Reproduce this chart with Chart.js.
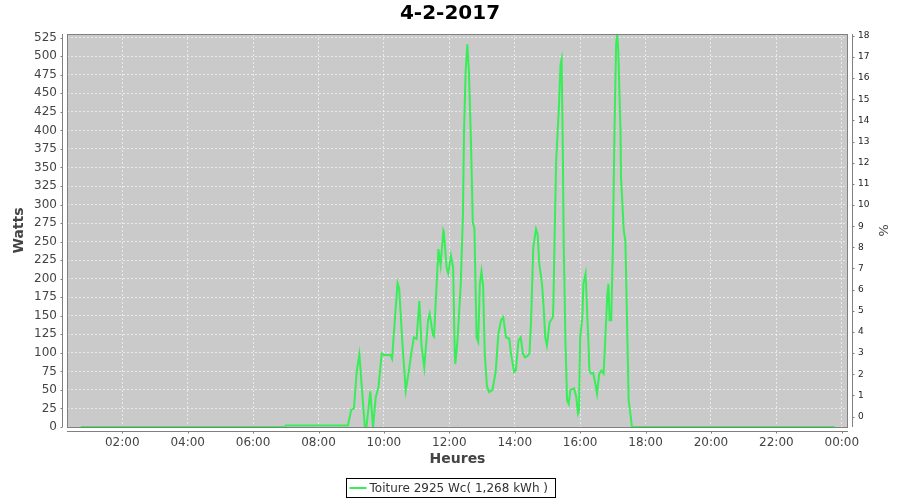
<!DOCTYPE html>
<html>
<head>
<meta charset="utf-8">
<script src="https://cdn.jsdelivr.net/npm/chart.js@4/dist/chart.umd.min.js"></script>
<style>
  body { margin: 0; background: #fff; }
</style>
</head>
<body>
<canvas id="myChart" width="900" height="500"></canvas>
<script>
'use strict';

const chartTitle = '4-2-2017';
const seriesLabel = 'Toiture 2925 Wc( 1,268 kWh )';

// heures de mesure
const times = ['00:44','02:00','04:00','06:00','06:58','07:00','08:00','08:54',
  '09:00','09:05','09:10','09:15','09:20','09:25','09:28','09:35','09:40','09:45','09:50','09:56',
  '10:00','10:12','10:15','10:20','10:25','10:28','10:34','10:40','10:45','10:51','10:55',
  '11:00','11:05','11:09','11:14','11:21','11:24','11:30','11:32','11:35','11:40','11:44','11:49','11:50','11:55','11:58',
  '12:03','12:07','12:10','12:11','12:15','12:21','12:25','12:27','12:30','12:33','12:36','12:40','12:43','12:46','12:50','12:53','12:56','12:59',
  '13:02','13:05','13:09','13:13','13:19','13:25','13:30','13:35','13:39','13:44','13:50','13:53','13:59',
  '14:02','14:07','14:11','14:15','14:19','14:24','14:27','14:30','14:34','14:39','14:42','14:45','14:50','14:53','14:56','14:59',
  '15:04','15:10','15:11','15:13','15:16','15:21','15:24','15:26','15:28','15:30','15:33','15:36','15:39','15:42','15:49','15:53','15:56','15:58',
  '16:00','16:04','16:06','16:10','16:12','16:15','16:17','16:20','16:24','16:28','16:31','16:35','16:39','16:43','16:46','16:50','16:52','16:54','16:57',
  '17:00','17:03','17:06','17:08','17:10','17:14','17:15','17:20','17:23','17:26','17:29','17:33','17:35',
  '18:00','20:00','22:00','23:47'];

// puissance en Watts
const watts = [0,0,0,0,0,2,2,2,
  23,25,74,98,49,0,0,48,0,40,54,99,
  97,97,92,144,194,187,112,49,72,103,121,
  119,170,110,80,144,153,124,122,168,240,218,265,263,215,207,
  231,215,99,85,117,193,287,400,480,516,480,377,276,268,121,115,193,210,
  190,99,55,47,50,74,126,144,148,121,119,99,74,
  76,117,121,99,94,96,99,144,242,267,260,220,193,162,121,110,
  141,148,168,251,359,431,489,496,386,242,117,36,31,50,52,40,18,22,
  121,148,193,207,171,117,76,72,73,58,45,72,76,72,117,180,193,144,144,
  242,400,517,530,507,400,337,265,251,144,36,13,0,
  0,0,0,0];

const xTicks = [2,4,6,8,10,12,14,16,18,20,22,24];
const wattTicks = [];
for (let v = 0; v <= 525; v += 25) wattTicks.push(v);
const pctTicks = [];
for (let v = 0; v <= 18; v++) pctTicks.push(v);

function toHours(t) {
  const p = t.split(':');
  return parseInt(p[0], 10) + parseInt(p[1], 10) / 60;
}

const points = [];
for (let i = 0; i < times.length; i++) {
  points.push({ x: toHours(times[i]), y: watts[i] });
}

const lineColor = '#38ee58';
const axisColor = '#808080';
const gridColor = 'rgba(255,255,255,0.6)';
const font = 'DejaVu Sans';

// fond gris du graphe + cadre et axes decales facon JFreeChart
const framePlugin = {
  id: 'frame',
  beforeDraw(chart) {
    const a = chart.chartArea;
    const ctx = chart.ctx;
    ctx.save();
    ctx.fillStyle = '#cacaca';
    ctx.fillRect(a.left, a.top, a.right - a.left, a.bottom - a.top);
    ctx.restore();
  },
  afterDraw(chart) {
    const a = chart.chartArea;
    const ctx = chart.ctx;
    ctx.save();
    ctx.strokeStyle = axisColor;
    ctx.lineWidth = 1;
    ctx.strokeRect(a.left + 0.5, a.top + 0.5, a.right - a.left - 1, a.bottom - a.top);

    ctx.beginPath();
    // axe gauche
    const lx = a.left - 4.5;
    ctx.moveTo(lx, a.top); ctx.lineTo(lx, a.bottom);
    chart.scales.y.ticks.forEach(t => {
      const py = Math.round(chart.scales.y.getPixelForValue(t.value)) + 0.5;
      ctx.moveTo(lx, py); ctx.lineTo(lx - 2, py);
    });
    // axe droit
    const rx = a.right + 4.5;
    ctx.moveTo(rx, a.top); ctx.lineTo(rx, a.bottom);
    chart.scales.y1.ticks.forEach(t => {
      const py = Math.round(chart.scales.y1.getPixelForValue(t.value)) + 0.5;
      ctx.moveTo(rx, py); ctx.lineTo(rx + 2, py);
    });
    // axe du bas
    const by = a.bottom + 4.5;
    ctx.moveTo(a.left, by); ctx.lineTo(a.right, by);
    chart.scales.x.ticks.forEach(t => {
      const px = Math.round(chart.scales.x.getPixelForValue(t.value)) + 0.5;
      ctx.moveTo(px, by); ctx.lineTo(px, by + 2);
    });
    ctx.stroke();

    // legende encadree
    ctx.font = '12px "' + font + '"';
    const label = chart.data.datasets[0].label;
    const tw = ctx.measureText(label).width;
    const boxW = Math.round(tw + 30);
    const bx = Math.round(chart.width / 2 - boxW / 2) + 0.5;
    const byy = 478.5;
    ctx.strokeStyle = '#000';
    ctx.strokeRect(bx, byy, boxW, 19);
    ctx.strokeStyle = lineColor;
    ctx.lineWidth = 2;
    ctx.beginPath();
    ctx.moveTo(bx + 3, 488); ctx.lineTo(bx + 20, 488);
    ctx.stroke();
    ctx.fillStyle = '#333';
    ctx.textBaseline = 'middle';
    ctx.fillText(label, bx + 23, 488.5);
    ctx.restore();
  }
};

const ctx = document.getElementById('myChart').getContext('2d');
const myChart = new Chart(ctx, {
  type: 'line',
  data: {
    datasets: [{
      label: seriesLabel,
      data: points,
      borderColor: lineColor,
      backgroundColor: lineColor,
      borderWidth: 2,
      pointRadius: 0,
      tension: 0,
      fill: false,
      yAxisID: 'y'
    }]
  },
  plugins: [framePlugin],
  options: {
    responsive: false,
    animation: false,
    layout: { padding: 0 },
    plugins: {
      legend: { display: false },
      tooltip: { enabled: false },
      title: {
        display: true,
        text: chartTitle,
        color: '#000',
        font: { family: font, size: 20, weight: 'bold' },
        padding: { top: 2, bottom: 8 }
      }
    },
    scales: {
      x: {
        type: 'linear',
        min: 0.31,
        max: 24.19,
        afterBuildTicks(scale) {
          scale.ticks = xTicks.map(v => ({ value: v }));
        },
        afterFit(scale) { scale.height = 73; },
        grid: { color: gridColor, drawTicks: false },
        border: { display: false, dash: [2, 2] },
        ticks: {
          padding: 9,
          color: '#444',
          font: { family: font, size: 12 },
          maxRotation: 0,
          autoSkip: false,
          callback(v) {
            const h = Math.round(v) % 24;
            return (h < 10 ? '0' : '') + h + ':00';
          }
        },
        title: {
          display: true,
          text: 'Heures',
          color: '#444',
          font: { family: font, size: 14, weight: 'bold' },
          padding: { top: 0, bottom: 32 }
        }
      },
      y: {
        type: 'linear',
        position: 'left',
        min: 0,
        max: 530,
        afterBuildTicks(scale) {
          scale.ticks = wattTicks.map(v => ({ value: v }));
        },
        afterFit(scale) { scale.width = 67; },
        grid: { color: gridColor, drawTicks: false },
        border: { display: false, dash: [2, 2] },
        ticks: {
          padding: 10,
          color: '#444',
          font: { family: font, size: 12 },
          autoSkip: false
        },
        title: {
          display: true,
          text: 'Watts',
          color: '#444',
          font: { family: font, size: 14, weight: 'bold' },
          padding: { top: 11, bottom: 0 }
        }
      },
      y1: {
        type: 'linear',
        position: 'right',
        min: -0.49,
        max: 18.08,
        afterBuildTicks(scale) {
          scale.ticks = pctTicks.map(v => ({ value: v }));
        },
        afterFit(scale) { scale.width = 52; },
        grid: { drawOnChartArea: false, drawTicks: false },
        border: { display: false },
        ticks: {
          padding: 10,
          color: '#222',
          font: { family: font, size: 9 },
          autoSkip: false
        },
        title: {
          display: true,
          text: '%',
          color: '#444',
          font: { family: font, size: 13 },
          padding: { top: 10, bottom: 0 }
        }
      }
    }
  }
});
</script>
</body>
</html>
